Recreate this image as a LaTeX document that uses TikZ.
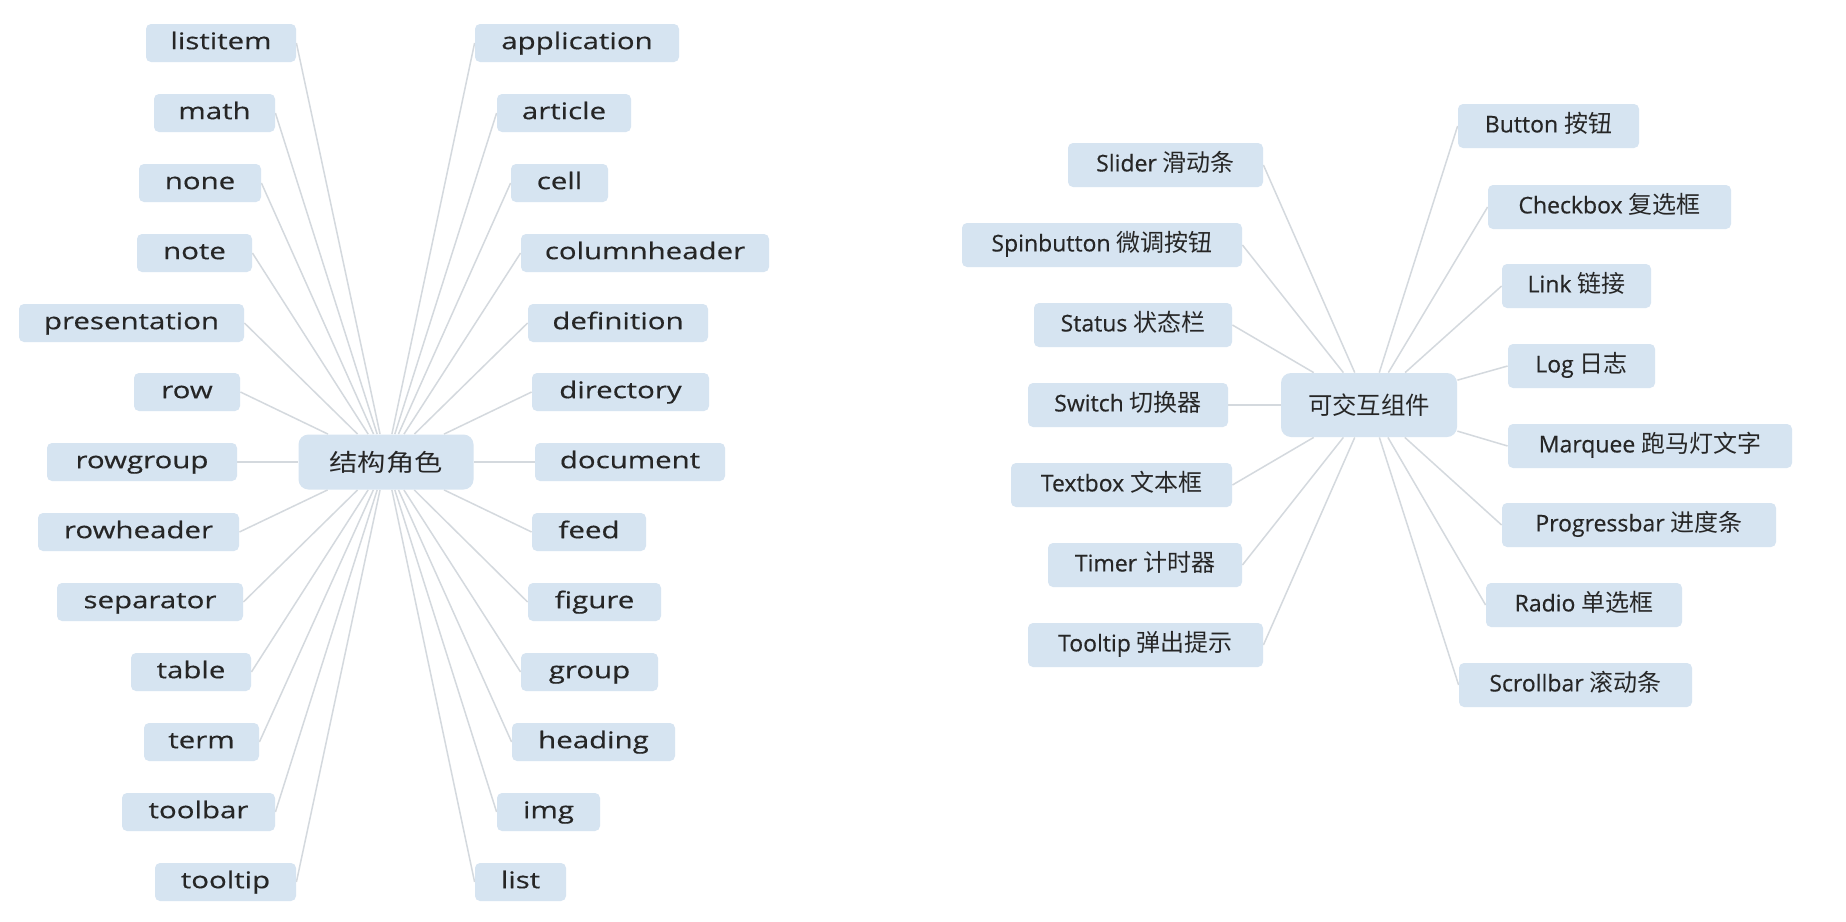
\documentclass[tikz,border=0pt]{standalone}
\usepackage{fontspec}
\setmainfont{Open Sans}[FakeBold=0.4]
\newfontfamily\latwide{Open Sans}[FakeStretch=1.28,FakeBold=0.4]
\newfontfamily\cjk{Noto Sans CJK SC}
\newfontfamily\cjkwide{Noto Sans CJK SC}[FakeStretch=1.18]
\usetikzlibrary{backgrounds}
\definecolor{boxfill}{RGB}{214,228,241}
\definecolor{linec}{RGB}{212,217,222}
\definecolor{txt}{RGB}{38,38,38}
\tikzset{
  leafL/.style={fill=boxfill, rounded corners=2.5pt, inner sep=0pt, minimum height=19pt,
     text height=8.6pt, text depth=2.4pt,
     text=txt, font=\latwide\fontsize{11.5pt}{13pt}\selectfont},
  leafR/.style={fill=boxfill, rounded corners=2.5pt, inner sep=0pt, minimum height=22pt,
     text height=8.8pt, text depth=2.4pt,
     text=txt, font=\fontsize{11.5pt}{13pt}\selectfont},
  hubL/.style={fill=boxfill, rounded corners=5pt, inner sep=0pt, minimum height=27.5pt,
     minimum width=87.5pt, text=txt, font=\cjkwide\fontsize{12pt}{14pt}\selectfont},
  hubR/.style={fill=boxfill, rounded corners=5pt, inner sep=0pt, minimum height=32pt,
     minimum width=88pt, text=txt, font=\cjk\fontsize{12.2pt}{14pt}\selectfont},
  conn/.style={draw=linec, line width=0.75pt},
  w/.style={minimum width=#1*0.5pt}
}
\newcommand{\zh}[1]{{\cjk\fontsize{12pt}{14pt}\selectfont #1}}
\begin{document}
\begin{tikzpicture}[x=0.5pt,y=-0.5pt]
\useasboundingbox (0,0) rectangle (1846,921);
% ---------- left cluster ----------
\node[hubL] (c1) at (386,462) {结构角色};
% left column
\node[leafL,w=150] (listitem) at (221,43) {listitem};
\node[leafL,w=121] (math) at (214.5,113) {math};
\node[leafL,w=122] (none) at (200,183) {none};
\node[leafL,w=115] (note) at (194.5,253) {note};
\node[leafL,w=225] (presentation) at (131.5,323) {presentation};
\node[leafL,w=106] (row) at (187,392) {row};
\node[leafL,w=190] (rowgroup) at (142,462) {rowgroup};
\node[leafL,w=201] (rowheader) at (138.5,532) {rowheader};
\node[leafL,w=186] (separator) at (150,602) {separator};
\node[leafL,w=120] (table) at (191,672) {table};
\node[leafL,w=115] (term) at (201.5,742) {term};
\node[leafL,w=153] (toolbar) at (198.5,812) {toolbar};
\node[leafL,w=141] (tooltip) at (225.5,882) {tooltip};
% right column
\node[leafL,w=204] (application) at (577,43) {application};
\node[leafL,w=134] (article) at (564,113) {article};
\node[leafL,w=97] (cell) at (559.5,183) {cell};
\node[leafL,w=248] (columnheader) at (645,253) {columnheader};
\node[leafL,w=180] (definition) at (618,323) {definition};
\node[leafL,w=177] (directory) at (620.5,392) {directory};
\node[leafL,w=190] (document) at (630,462) {document};
\node[leafL,w=114] (feed) at (589,532) {feed};
\node[leafL,w=133] (figure) at (594.5,602) {figure};
\node[leafL,w=137] (group) at (589.5,672) {group};
\node[leafL,w=163] (heading) at (593.5,742) {heading};
\node[leafL,w=103] (img) at (548.5,812) {img};
\node[leafL,w=91] (list) at (520.5,882) {list};
% ---------- right cluster ----------
\node[hubR] (c2) at (1369,405) {可交互组件};
\node[leafR,w=195] (slider) at (1165.5,165) {Slider \zh{滑动条}};
\node[leafR,w=280] (spin) at (1102,245) {Spinbutton \zh{微调按钮}};
\node[leafR,w=198] (status) at (1133,325) {Status \zh{状态栏}};
\node[leafR,w=200] (switch) at (1128,405) {Switch \zh{切换器}};
\node[leafR,w=221] (textbox) at (1121.5,485) {Textbox \zh{文本框}};
\node[leafR,w=194] (timer) at (1145,565) {Timer \zh{计时器}};
\node[leafR,w=235] (tip) at (1145.5,645) {Tooltip \zh{弹出提示}};
\node[leafR,w=181] (button) at (1548.5,126) {Button \zh{按钮}};
\node[leafR,w=243] (checkbox) at (1609.5,207) {Checkbox \zh{复选框}};
\node[leafR,w=149] (link) at (1576.5,286) {Link \zh{链接}};
\node[leafR,w=147] (log) at (1581.5,366) {Log \zh{日志}};
\node[leafR,w=284] (marquee) at (1650,446) {Marquee \zh{跑马灯文字}};
\node[leafR,w=274] (progress) at (1639,525) {Progressbar \zh{进度条}};
\node[leafR,w=196] (radio) at (1584,605) {Radio \zh{单选框}};
\node[leafR,w=233] (scroll) at (1575.5,685) {Scrollbar \zh{滚动条}};
% ---------- connectors ----------
\begin{scope}[on background layer]
\fill[white] (0,0) rectangle (1846,921);
\foreach \n in {listitem,math,none,note,presentation,row,rowgroup,rowheader,separator,table,term,toolbar,tooltip}
  \draw[conn] (\n.east) -- (c1);
\foreach \n in {application,article,cell,columnheader,definition,directory,document,feed,figure,group,heading,img,list}
  \draw[conn] (\n.west) -- (c1);
\foreach \n in {slider,spin,status,switch,textbox,timer,tip}
  \draw[conn] (\n.east) -- (c2);
\foreach \n in {button,checkbox,link,log,marquee,progress,radio,scroll}
  \draw[conn] (\n.west) -- (c2);
\end{scope}
\end{tikzpicture}
\end{document}
